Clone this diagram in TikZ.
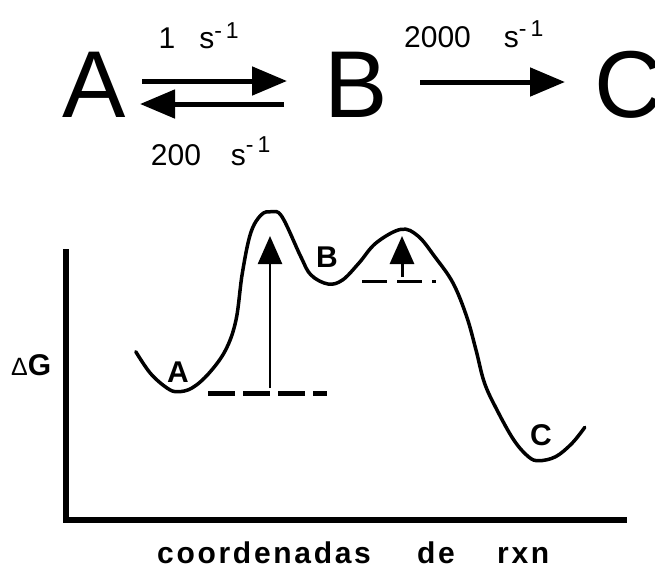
\documentclass[tikz,border=0pt]{standalone}
\usepackage{fontspec}
\setmainfont{Liberation Sans}
\usetikzlibrary{arrows.meta}
\newcommand\myfs[1]{\fontsize{#1}{#1}\selectfont}
\newcommand\perS[1]{s\raisebox{#1}{\myfs{23}-\kern4pt 1}}
\tikzset{
  big/.style={inner sep=0pt, anchor=base, font=\myfs{95}},
  rate/.style={inner sep=0pt, anchor=base west, font=\myfs{30}},
  rx/.style={line width=5pt, -{Triangle[length=35pt,width=28pt]}},
  vup/.style={-{Triangle[length=28pt,width=24pt]}},
  lab/.style={inner sep=0pt, anchor=base, font=\myfs{30}\bfseries},
  axlab/.style={inner sep=0pt, anchor=base west, font=\myfs{30}\bfseries\addfontfeature{LetterSpace=9}},
  curve/.style={line width=3.5pt, line join=round, line cap=round},
}
\begin{document}
\begin{tikzpicture}[x=1pt,y=-1pt]
\useasboundingbox (0,0) rectangle (655,566);
% top scheme
\node[big] (A) at (94,117) {A};
\node[big] (B) at (356,117) {B};
\node[big, anchor=base west] (C) at (594,117) {C};
\coordinate (f1) at (142,81);
\coordinate (f2) at (287,81);
\coordinate (b1) at (284,104);
\coordinate (b2) at (140,104);
\coordinate (c1) at (420,82);
\coordinate (c2) at (565,82);
\draw[rx] (f1) -- (f2);
\draw[rx] (b1) -- (b2);
\draw[rx] (c1) -- (c2);
\node[rate] (k1) at (158.4,48) {1\hspace{24pt}\perS{10pt}};
\node[rate] (k2) at (150.7,165) {200\hspace{30pt}\perS{13pt}};
\node[rate] (k3) at (404,47) {2000\hspace{33pt}\perS{11pt}};
% energy diagram
\draw[line width=6.5pt, line join=miter] (66,249) -- (66,520) -- (627,520);
\node[inner sep=0pt, anchor=base west] (dG) at (11,375) {\myfs{25}Δ\myfs{30}\bfseries G};
\node[axlab] (x1) at (157,563) {coordenadas};
\node[axlab] (x2) at (417,563) {de};
\node[axlab] (x3) at (497,563) {rxn};
\draw[curve] plot[smooth, tension=0.6] coordinates {
 (135.8,351.7) (150.4,373.3) (167,388) (177.5,391.7) (192,388) (208.9,373.3)
 (225.6,350) (236,320) (242.3,273.3) (250.6,233.3) (261,215) (271.5,211.7)
 (282,216.7) (300.8,256.7) (311,275) (328,284) (342.5,280) (359,263)
 (376,243) (401,229.3) (418,236) (435,257) (453,283) (466.7,316.7)
 (476,350) (484.5,383) (497,410) (513.8,440) (528.4,456.7) (538.8,460.7)
 (555.6,456.7) (572,443.3) (584.8,427.3)};
\node[lab] (lA) at (178,382) {A};
\node[lab] (lB) at (327,267) {B};
\node[lab] (lC) at (541,445) {C};
\coordinate (dA1) at (208,393);
\coordinate (dA2) at (327,393);
\coordinate (dB1) at (362,281);
\coordinate (dB2) at (436,281);
\draw[line width=5pt, dash pattern=on 27pt off 8pt] (dA1) -- (dA2);
\draw[line width=3pt, dash pattern=on 25pt off 10pt] (dB1) -- (dB2);
\coordinate (u1) at (270,388);
\coordinate (u2) at (270,236);
\coordinate (v1) at (402,277);
\coordinate (v2) at (402,236);
\draw[vup, line width=2.5pt] (u1) -- (u2);
\draw[vup, line width=3pt] (v1) -- (v2);
\end{tikzpicture}
\end{document}
